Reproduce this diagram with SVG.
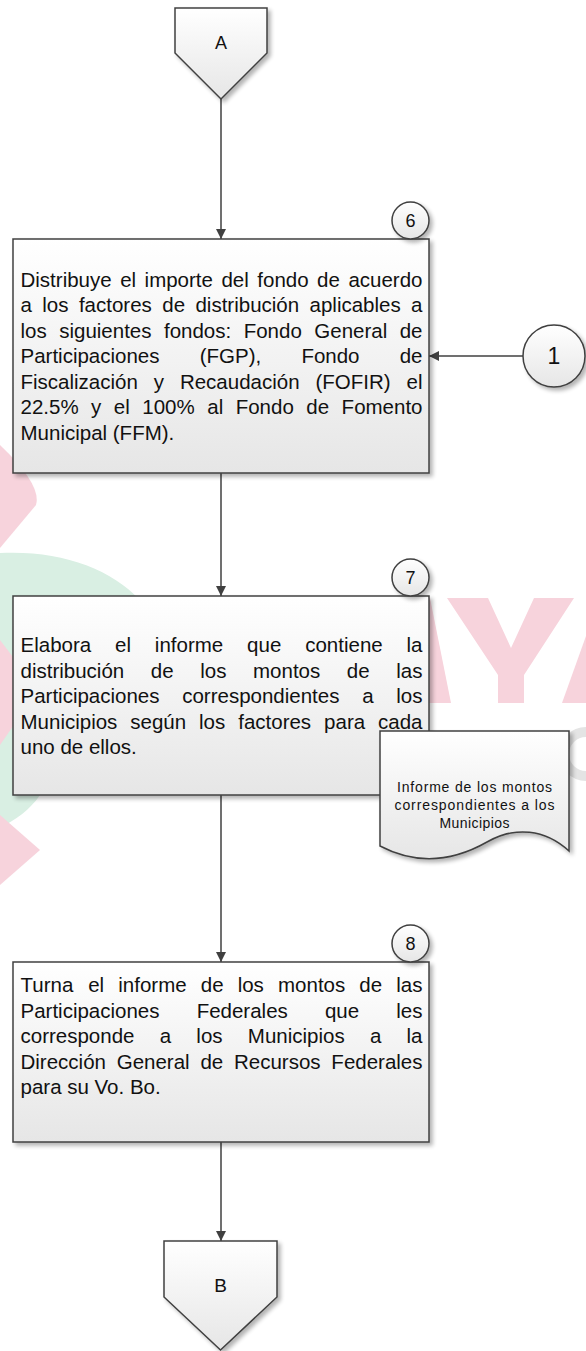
<svg xmlns="http://www.w3.org/2000/svg" width="586" height="1351" viewBox="0 0 586 1351">
<defs>
<linearGradient id="g" x1="0" y1="0" x2="0" y2="1"><stop offset="0" stop-color="#ffffff"/><stop offset="1" stop-color="#e6e6e6"/></linearGradient>
<filter id="sh" x="-10%" y="-10%" width="130%" height="130%"><feGaussianBlur in="SourceAlpha" stdDeviation="2"/><feOffset dx="3" dy="3" result="o"/><feComponentTransfer in="o" result="s"><feFuncA type="linear" slope="0.3"/></feComponentTransfer><feMerge><feMergeNode in="s"/><feMergeNode in="SourceGraphic"/></feMerge></filter>
<marker id="ah" viewBox="0 0 10 10" refX="10" refY="5" markerWidth="10" markerHeight="10" markerUnits="userSpaceOnUse" orient="auto"><path d="M0,0 L10,5 L0,10 z" fill="#404040"/></marker>
<style>
.shape{fill:url(#g);stroke:#404040;stroke-width:1.5;filter:url(#sh)}
.t{font-family:"Liberation Sans",Arial,sans-serif;font-size:20.5px;fill:#111}
.d{font-family:"Liberation Sans",Arial,sans-serif;font-size:14px;fill:#111;text-anchor:middle}
.n{font-family:"Liberation Sans",Arial,sans-serif;font-size:18px;fill:#111;text-anchor:middle}
.c{stroke:#404040;stroke-width:1.5;fill:none;marker-end:url(#ah)}
.pk{fill:#f7d3dc}
.gr{fill:#d9efe3}
</style>
</defs>
<g id="watermark">
<path class="pk" d="M0,445 Q42,485 36,505 L0,548 Z"/>
<path class="gr" d="M0,553 C60,550 110,568 140,600 L140,795 L40,795 C30,810 15,820 0,828 Z"/>
<path class="pk" d="M0,640 L38,690 L0,745 Z"/>
<path class="pk" d="M0,815 L40,850 L0,885 Z"/>
<polygon class="pk" points="405,598 430,598 451,703 426,703"/>
<polygon class="pk" points="447,598 488,598 511,648 534,598 574,598 524,675 524,703 498,703 498,675"/>
<polygon class="pk" points="562,703 586,636 586,703"/>
<path d="M586,732 A22,22 0 0,0 586,776" fill="none" stroke="#e4e4e4" stroke-width="10"/>
</g>
<g id="connectors">
<path class="c" d="M221,99 V239"/>
<path class="c" d="M523,356 H429"/>
<path class="c" d="M221,473 V596"/>
<path class="c" d="M221,795 V962"/>
<path class="c" d="M221,1142 V1241"/>
</g>
<g id="offpage-A">
<polygon class="shape" points="175,8 267,8 267,53 221,99 175,53"/>
<text class="n" x="221" y="49">A</text>
</g>
<g id="step6">
<rect class="shape" x="13" y="239" width="416" height="234"/>
<text class="t" y="286.5"><tspan x="20.5">Distribuye</tspan><tspan x="120.13">el</tspan><tspan x="144.59">importe</tspan><tspan x="221.45">del</tspan><tspan x="257.31">fondo</tspan><tspan x="317.11">de</tspan><tspan x="348.42">acuerdo</tspan></text>
<text class="t" y="312"><tspan x="20.5">a</tspan><tspan x="42.31">los</tspan><tspan x="78.92">factores</tspan><tspan x="162.25">de</tspan><tspan x="195.46">distribución</tspan><tspan x="309.54">aplicables</tspan><tspan x="411.09">a</tspan></text>
<text class="t" y="337.5"><tspan x="20.5">los</tspan><tspan x="59.19">siguientes</tspan><tspan x="163.97">fondos:</tspan><tspan x="243.7">Fondo</tspan><tspan x="314.31">General</tspan><tspan x="399.72">de</tspan></text>
<text class="t" y="363"><tspan x="20.5">Participaciones</tspan><tspan x="199.69">(FGP),</tspan><tspan x="301.39">Fondo</tspan><tspan x="399.71">de</tspan></text>
<text class="t" y="388.5"><tspan x="20.5">Fiscalización</tspan><tspan x="153.74">y</tspan><tspan x="179.91">Recaudación</tspan><tspan x="315.47">(FOFIR)</tspan><tspan x="406.54">el</tspan></text>
<text class="t" y="414"><tspan x="20.5">22.5%</tspan><tspan x="91.12">y</tspan><tspan x="113.87">el</tspan><tspan x="142.32">100%</tspan><tspan x="207.24">al</tspan><tspan x="235.69">Fondo</tspan><tspan x="306.31">de</tspan><tspan x="341.61">Fomento</tspan></text>
<text class="t" x="20.5" y="439.5">Municipal (FFM).</text>
</g>
<g id="num6">
<circle class="shape" cx="410.5" cy="220.5" r="18.5"/>
<text class="n" x="410.5" y="227">6</text>
</g>
<g id="conn1">
<circle class="shape" cx="554" cy="356" r="31"/>
<text class="n" style="font-size:23px" x="554" y="364">1</text>
</g>
<g id="step7">
<rect class="shape" x="13" y="596" width="416" height="199"/>
<text class="t" y="652"><tspan x="20.5">Elabora</tspan><tspan x="115.03">el</tspan><tspan x="154.87">informe</tspan><tspan x="247.11">que</tspan><tspan x="305.19">contiene</tspan><tspan x="406.57">la</tspan></text>
<text class="t" y="677.5"><tspan x="20.5">distribución</tspan><tspan x="150.79">de</tspan><tspan x="200.21">los</tspan><tspan x="253.03">montos</tspan><tspan x="346.87">de</tspan><tspan x="396.29">las</tspan></text>
<text class="t" y="703"><tspan x="20.5">Participaciones</tspan><tspan x="182.21">correspondientes</tspan><tspan x="362.17">a</tspan><tspan x="396.29">los</tspan></text>
<text class="t" y="728.5"><tspan x="20.5">Municipios</tspan><tspan x="130.27">según</tspan><tspan x="199.06">los</tspan><tspan x="238.21">factores</tspan><tspan x="324.08">para</tspan><tspan x="378.05">cada</tspan></text>
<text class="t" x="20.5" y="754">uno de ellos.</text>
</g>
<g id="num7">
<circle class="shape" cx="410.5" cy="577.5" r="18.5"/>
<text class="n" x="410.5" y="584">7</text>
</g>
<g id="doc">
<path class="shape" d="M380,731 H569 V851 C545,829 515,826 487,842 C457,859 420,867 380,846 Z"/>
<text class="d" x="474.5" y="792" textLength="155">Informe de los montos</text>
<text class="d" x="474.5" y="810" textLength="160">correspondientes a los</text>
<text class="d" x="474.5" y="828" textLength="70">Municipios</text>
</g>
<g id="step8">
<rect class="shape" x="13" y="962" width="416" height="180"/>
<text class="t" y="992"><tspan x="20.5">Turna</tspan><tspan x="88.18">el</tspan><tspan x="118.26">informe</tspan><tspan x="200.74">de</tspan><tspan x="237.67">los</tspan><tspan x="278">montos</tspan><tspan x="359.35">de</tspan><tspan x="396.28">las</tspan></text>
<text class="t" y="1017.5"><tspan x="20.5">Participaciones</tspan><tspan x="196.65">Federales</tspan><tspan x="324.95">que</tspan><tspan x="396.3">les</tspan></text>
<text class="t" y="1043"><tspan x="20.5">corresponde</tspan><tspan x="159.7">a</tspan><tspan x="196.36">los</tspan><tspan x="247.82">Municipios</tspan><tspan x="369.9">a</tspan><tspan x="406.56">la</tspan></text>
<text class="t" y="1068.5"><tspan x="20.5">Dirección</tspan><tspan x="116.71">General</tspan><tspan x="200.42">de</tspan><tspan x="234.01">Recursos</tspan><tspan x="331.37">Federales</tspan></text>
<text class="t" x="20.5" y="1094">para su Vo. Bo.</text>
</g>
<g id="num8">
<circle class="shape" cx="410.5" cy="943.5" r="18.5"/>
<text class="n" x="410.5" y="950">8</text>
</g>
<g id="offpage-B">
<polygon class="shape" points="164,1241 277,1241 277,1297 220.5,1350 164,1297"/>
<text class="n" style="font-size:19px" x="220.5" y="1292">B</text>
</g>
</svg>
